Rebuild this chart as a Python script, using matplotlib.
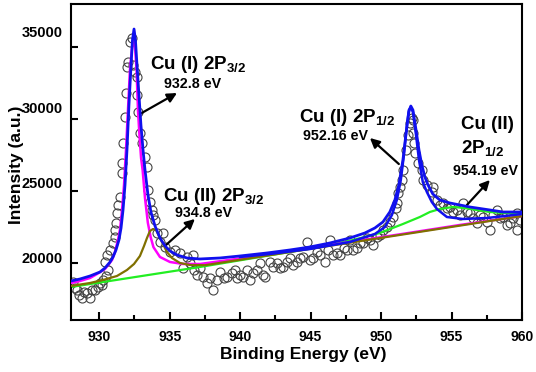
import matplotlib
matplotlib.use("Agg")
import matplotlib.pyplot as plt
import matplotlib.transforms as mtransforms
from matplotlib.ticker import MultipleLocator

plt.rcParams['font.family'] = 'Liberation Sans'
plt.rcParams['font.weight'] = 'bold'
plt.rcParams['mathtext.fontset'] = 'custom'
plt.rcParams['mathtext.rm'] = 'Liberation Sans:bold'
plt.rcParams['mathtext.it'] = 'Liberation Sans:bold'
plt.rcParams['mathtext.bf'] = 'Liberation Sans:bold'

# measured XPS points (binding energy eV, counts)
exp_x = [928.14, 928.28, 928.43, 928.57, 928.78, 928.92, 929.13, 929.35, 929.49, 929.70,
         929.91, 930.06, 930.20, 930.27, 930.41, 930.48, 930.55, 930.62, 930.77, 930.98,
         931.12, 931.15, 931.19, 931.26, 931.33, 931.48, 931.60, 931.65, 931.69, 931.83,
         931.90, 931.97, 932.04, 932.18, 932.30, 932.40, 932.54, 932.66, 932.70, 932.75,
         932.89, 933.01, 933.25, 933.37, 933.46, 933.60, 933.72, 933.82, 933.96, 934.10,
         934.31, 934.52, 934.67, 935.02, 935.38, 935.73, 935.94, 936.23, 936.44, 936.65,
         936.70, 936.94, 937.15, 937.36, 937.65, 937.86, 938.07, 938.35, 938.57, 938.85,
         939.06, 939.42, 939.63, 939.77, 939.99, 940.20, 940.48, 940.70, 940.91, 941.19,
         941.40, 941.62, 941.76, 942.11, 942.33, 942.61, 942.82, 943.04, 943.32, 943.53,
         943.74, 944.03, 944.24, 944.45, 944.74, 944.95, 945.16, 945.45, 945.66, 946.01,
         946.23, 946.37, 946.58, 946.87, 947.08, 947.36, 947.57, 947.79, 948.00, 948.28,
         948.50, 948.71, 948.99, 949.21, 949.42, 949.70, 949.91, 950.13, 950.41, 950.62,
         950.84, 951.05, 951.12, 951.19, 951.33, 951.48, 951.55, 951.76, 951.90, 952.04,
         952.18, 952.26, 952.30, 952.33, 952.40, 952.61, 952.89, 952.96, 953.25, 953.60,
         953.67, 953.96, 954.17, 954.38, 954.67, 954.88, 955.09, 955.38, 955.59, 955.80,
         956.09, 956.30, 956.51, 956.79, 957.01, 957.22, 957.50, 957.72, 957.93, 958.21,
         958.43, 958.64, 958.92, 959.13, 959.35, 959.63, 959.65, 959.84]
exp_y = [18680, 18260, 18125, 17778, 17570, 17986, 17917, 17570, 18125, 18125,
         18333, 18611, 18472, 18819, 20069, 19097, 20556, 19514, 20903, 21389,
         21806, 22292, 22778, 23472, 24028, 24583, 26250, 26944, 28333, 30139,
         31806, 33611, 33958, 35347, 35625, 33750, 33264, 32917, 31667, 30486,
         29028, 28333, 27361, 26667, 25069, 24236, 23681, 23333, 22986, 22083,
         21458, 22083, 21111, 20764, 20903, 20694, 19653, 20417, 20000, 20556,
         19514, 19167, 19653, 19028, 18611, 18958, 18125, 18819, 19375, 18958,
         19028, 19306, 19514, 18958, 19167, 19028, 19514, 18819, 19306, 19514,
         20000, 19167, 19028, 20069, 19722, 20000, 19653, 19722, 20069, 20347,
         19861, 20069, 20347, 20417, 21458, 20208, 20347, 20764, 20556, 20069,
         20903, 21597, 20556, 20694, 20556, 21042, 20903, 21597, 20903, 21042,
         21389, 21389, 21736, 21597, 21250, 21806, 21944, 22292, 22500, 22847,
         23194, 23819, 24167, 24861, 25278, 25764, 26458, 27847, 28889, 29722,
         30069, 29931, 29028, 28333, 27639, 26944, 26458, 25764, 25417, 24931,
         25278, 24375, 24028, 24167, 23819, 23889, 23542, 23681, 23333, 24167,
         23542, 23472, 23125, 22778, 23333, 23194, 22847, 22292, 23333, 23681,
         23125, 23194, 22639, 22778, 23125, 22292, 23472, 22986]

# fitted envelope
sum_x = [928.0, 928.64, 929.35, 930.06, 930.41, 930.77, 930.98, 931.19, 931.40, 931.55,
         931.69, 931.83, 931.97, 932.11, 932.26, 932.36, 932.47, 932.57, 932.68, 932.82,
         932.96, 933.11, 933.25, 933.46, 933.67, 933.96, 934.31, 934.67, 935.02, 935.52,
         936.23, 937.15, 938.57, 939.99, 941.90, 943.53, 944.95, 946.37, 947.79, 948.85,
         949.56, 950.13, 950.62, 950.98, 951.26, 951.55, 951.76, 951.97, 952.11, 952.26,
         952.48, 952.69, 952.89, 953.11, 953.33, 953.67, 954.17, 954.88, 956.30, 957.72,
         958.64, 960.0]
sum_y = [18750, 18889, 19097, 19375, 19653, 20069, 20417, 20903, 21597, 22431,
         23681, 25417, 27847, 30972, 33750, 35486, 36250, 35486, 33750, 31667,
         29583, 27847, 26458, 24722, 23542, 22569, 21736, 21181, 20833, 20556,
         20347, 20278, 20347, 20486, 20694, 20903, 21111, 21389, 21736, 22083,
         22431, 22847, 23542, 24375, 25417, 27153, 28889, 30486, 30903, 30625,
         29236, 27847, 26806, 25972, 25417, 24792, 24375, 24167, 23889, 23681,
         23542, 23542]

# Cu(I) 2p3/2 component
cu1a_x = [928.0, 928.64, 929.35, 929.84, 930.41, 930.91, 931.12, 931.33, 931.48, 931.62,
          931.76, 931.90, 932.04, 932.18, 932.33, 932.43, 932.54, 932.65, 932.75, 932.86,
          932.97, 933.08, 933.25, 933.45, 933.65, 933.85, 934.31, 935.02, 935.94, 937.15,
          942.11, 946.37, 951.33, 955.59, 960.0]
cu1a_y = [18611, 18750, 18958, 19236, 19583, 20208, 20764, 21597, 22361, 23681,
          25417, 27847, 30625, 33403, 34931, 35486, 35000, 33403, 30625, 28800,
          27300, 26458, 24500, 22800, 21800, 21100, 20417, 20069, 19931, 19930,
          20600, 21250, 21990, 22640, 23264]

# Cu(II) 2p3/2 component
cu2a_x = [928.0, 929.35, 930.27, 931.26, 931.97, 932.47, 932.89, 933.18, 933.39, 933.60,
          933.82, 934.03, 934.24, 934.52, 934.81, 935.16, 935.73, 936.44, 937.50, 960.0]
cu2a_y = [18403, 18611, 18819, 19097, 19514, 19931, 20486, 21181, 21736, 22222,
          22361, 22292, 21875, 21319, 20764, 20347, 20000, 19861, 19846, 23264]

# Cu(I) 2p1/2 component
cu1b_x = [939.99, 942.11, 944.95, 947.79, 949.56, 950.27, 950.77, 951.12, 951.40, 951.62,
          951.83, 951.97, 952.11, 952.26, 952.48, 952.69, 952.96, 953.25, 953.60, 953.96,
          954.67, 955.80, 957.50, 958.78, 960.0]
cu1b_y = [20420, 20625, 20972, 21458, 22014, 22500, 23333, 24375, 25764, 27500,
          29583, 30625, 30833, 30486, 28889, 27153, 25625, 24931, 24236, 23750,
          23194, 23056, 23125, 23264, 23403]

# Cu(II) 2p1/2 component
cu2b_x = [928.0, 937.15, 945.66, 948.0, 949.91, 951.55, 952.75, 953.46, 954.17, 955.09,
          955.94, 956.79, 957.72, 958.64, 960.0]
cu2b_y = [18333, 19722, 21111, 21597, 22083, 22708, 23194, 23542, 23750, 23889,
          23819, 23681, 23542, 23472, 23472]

fig = plt.figure(figsize=(5.36, 3.72), dpi=100)
ax = fig.add_axes([0.1325, 0.1398, 0.8414, 0.8495])

ax.plot(exp_x, exp_y, 'o', mfc='none', mec='#444444', ms=6.5, mew=0.8, zorder=1)
ax.plot(cu2b_x, cu2b_y, color='#22ee22', lw=1.6, zorder=2)
ax.plot(cu1a_x, cu1a_y, color='#ff00ff', lw=1.8, zorder=3)
ax.plot(cu2a_x, cu2a_y, color='#807000', lw=1.6, zorder=4)
ax.plot(cu1b_x, cu1b_y, color='#1010ee', lw=1.8, zorder=5)
ax.plot(sum_x, sum_y, color='#1010ee', lw=2.0, zorder=6)

ax.set_xlim(928, 960)
ax.set_ylim(16040, 37990)
ax.xaxis.set_major_locator(MultipleLocator(5))
ax.xaxis.set_minor_locator(MultipleLocator(2.5))
ax.set_yticks([20000, 25000, 30000, 35000])
ax.set_yticklabels([])
ax.tick_params(axis='both', which='both', direction='in', width=1.5)
ax.tick_params(axis='x', which='major', length=6, labelsize=10, pad=7)
ax.tick_params(axis='x', which='minor', length=3.5)
ax.tick_params(axis='y', length=5)
for lbl in ax.get_xticklabels():
    lbl.set_fontweight('bold')
for s in ax.spines.values():
    s.set_linewidth(1.5)

# y tick labels sit a little above their ticks in the original
ytr = ax.get_yaxis_transform()
for val, dy in zip([20000, 25000, 30000, 35000], [4, 7, 10, 14]):
    off = mtransforms.ScaledTranslation(0, dy / 100, fig.dpi_scale_trans)
    ax.text(-0.018, val, str(val), ha='right', va='center', fontsize=10.5,
            fontweight='bold', transform=ytr + off)

ax.set_xlabel('Binding Energy (eV)', fontsize=12.5, fontweight='bold')
ax.set_ylabel('Intensity (a.u.)', fontsize=12.5, fontweight='bold')
ax.xaxis.set_label_coords(0.514, -0.085)
ax.yaxis.set_label_coords(-0.104, 0.49)

big = 13.5
small = 10.3
arr = dict(arrowstyle='-|>', lw=1.6, color='k', mutation_scale=14, shrinkA=0, shrinkB=0)

ax.text(933.60, 33472, r'Cu (I) 2P$_{3/2}$', fontsize=big, va='baseline')
ax.text(934.60, 32153, '932.8 eV', fontsize=small, va='baseline')
ax.annotate('', xy=(935.52, 31806), xytext=(932.89, 30347), arrowprops=arr)

ax.text(934.52, 24306, r'Cu (II) 2P$_{3/2}$', fontsize=big, va='baseline')
ax.text(935.38, 23194, '934.8 eV', fontsize=small, va='baseline')
ax.annotate('', xy=(936.79, 23056), xytext=(934.74, 21250), arrowprops=arr)

ax.text(944.17, 29791, r'Cu (I) 2P$_{1/2}$', fontsize=big, va='baseline')
ax.text(944.45, 28542, '952.16 eV', fontsize=small, va='baseline')
ax.annotate('', xy=(949.21, 28681), xytext=(951.26, 26875), arrowprops=arr)

ax.text(955.66, 29306, 'Cu (II)', fontsize=big, va='baseline')
ax.text(955.66, 27639, r'2P$_{1/2}$', fontsize=big, va='baseline')
ax.text(955.09, 26111, '954.19 eV', fontsize=small, va='baseline')
ax.annotate('', xy=(957.72, 25764), xytext=(956.09, 24028), arrowprops=arr)

fig.savefig('out.png', dpi=100)
